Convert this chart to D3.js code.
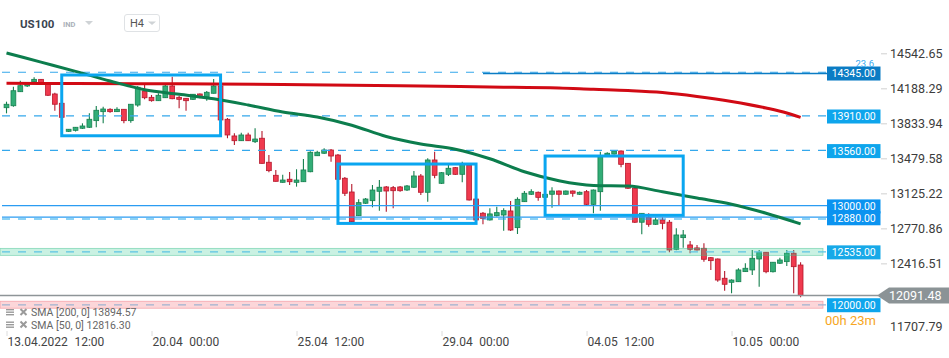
<!DOCTYPE html>
<html><head><meta charset="utf-8">
<script src="https://cdn.jsdelivr.net/npm/d3@7"></script>
<style>html,body{margin:0;padding:0;background:#fff;} svg{display:block;font-family:Roboto,"Open Sans",sans-serif;}</style>
</head><body><svg id="c" width="949" height="358"></svg>
<script>
// ---------- DATA ----------
const opens =[13992,14012,14154,14212,14255,14279,14239,14131,14037,13753,13763,13784,13794,13861,13952,13976,13952,13976,13861,14019,14161,14097,14063,14093,14212,14097,14087,14077,14131,14103,14138,14212,13875,13706,13658,13716,13648,13683,13440,13308,13237,13268,13237,13243,13344,13506,13531,13564,13513,13278,13139,12899,13025,13051,13146,13190,13183,13190,13159,13187,13301,13136,13463,13227,13318,13385,13318,13412,13068,12924,12856,12899,12906,12947,12778,13041,13116,13136,13085,13116,13149,13116,13149,13116,13142,13014,13142,13513,13523,13554,13429,13177,12833,12883,12812,12856,12833,12559,12677,12603,12573,12569,12474,12461,12266,12225,12231,12333,12350,12461,12529,12332,12418,12434,12519,12400];
const highs =[14053,14205,14265,14242,14300,14283,14242,14144,14040,13777,13797,13834,13935,14009,14002,13986,13996,13979,14030,14212,14232,14121,14138,14239,14306,14110,14090,14131,14136,14161,14283,14222,13888,13733,13739,13739,13784,13756,13513,13362,13314,13341,13369,13473,13551,13557,13581,13574,13523,13291,13220,13065,13078,13210,13260,13200,13200,13200,13210,13352,13321,13480,13547,13341,13412,13392,13446,13422,13078,12937,12974,12990,12974,13048,13085,13149,13166,13144,13124,13187,13154,13154,13154,13144,13159,13164,13547,13541,13559,13559,13432,13180,12923,12923,12883,12883,12856,12772,12754,12643,12603,12620,12481,12466,12340,12255,12367,12417,12552,12552,12532,12431,12474,12552,12552,12428];
const lows  =[13935,14002,14150,14202,14245,14222,14110,13962,13888,13746,13751,13777,13787,13794,13834,13941,13949,13834,13840,14002,14077,14053,14060,14090,14077,13986,13962,14070,14087,14063,14135,13858,13683,13615,13655,13655,13635,13425,13338,13244,13233,13210,13193,13240,13338,13503,13524,13446,13260,13099,12835,12896,13018,12984,12950,12940,12974,13142,13149,13179,13109,13041,13278,13220,13301,13311,13237,13053,12846,12812,12851,12891,12747,12744,12714,13038,13109,13051,13078,12980,13001,13109,13092,13109,13007,12924,12950,13503,13518,13389,13170,12825,12711,12788,12805,12761,12529,12550,12575,12519,12547,12434,12350,12231,12140,12114,12228,12330,12299,12181,12316,12325,12411,12390,12114,12073];
const closes=[14027,14164,14215,14232,14279,14245,14118,14027,13895,13774,13794,13807,13875,13966,13979,13952,13976,13861,14027,14199,14093,14063,14118,14212,14083,14077,14063,14128,14103,14148,14212,13868,13716,13658,13716,13658,13675,13429,13355,13247,13260,13243,13260,13362,13541,13541,13564,13503,13268,13126,12839,13031,13068,13159,13187,13149,13152,13152,13200,13301,13136,13463,13308,13334,13379,13318,13422,13058,12856,12873,12917,12930,12950,12754,13065,13126,13142,13085,13116,13149,13116,13149,13126,13136,13014,13159,13496,13531,13554,13419,13177,12833,12923,12812,12856,12822,12552,12704,12704,12559,12552,12458,12444,12248,12205,12248,12350,12367,12468,12529,12332,12428,12451,12519,12383,12091.48];

const sma200Idx=[0,10,20,30,40,50,60,70,80,85,90,95,100,105,110,113,115];
const sma200Val=[14239,14237,14235,14232,14227,14220,14212,14202,14192,14178,14166,14146,14106,14055,13989,13939,13894.57];
const sma50Idx=[0,5,10,15,20,25,30,35,40,45,50,55,60,65,70,75,80,85,90,95,100,105,110,115];
const sma50Val=[14546,14453,14360,14262,14174,14128,14082,14019,13949,13898,13815,13700,13625,13572,13475,13344,13253,13205,13199,13141,13078,13015,12924,12816.30];

const xTickIdx=[0,21,42,63,84,105];
const xTickLabels=["13.04.2022 12:00","20.04 00:00","25.04 12:00","29.04 00:00","04.05 12:00","10.05 00:00"];
const yTicks=[14542.65,14188.29,13833.94,13479.58,13125.22,12770.86,12416.51,11707.79];

const levels=[14345,13910,13560,13000,12880,12535,12000];
const boxStart=[8,48,78], boxEnd=[31,68,98], boxTop=[14323,13422,13503], boxBottom=[13708,12821,12903];
const lastPrice=12091.48;
const smaLegend=["SMA [200, 0] 13894.57","SMA [50, 0] 12816.30"];

// ---------- SCALES ----------
const svg=d3.select("#c");
const x=d3.scaleLinear().domain([0,115]).range([6.5,800.6]);
const y=d3.scaleLinear().domain([11707.79,14542.65]).range([333.4,53.3]);

const GREEN_F="#32ad77", GREEN_S="#16804f", RED_F="#f03a4e", RED_S="#b5182c";

// ---------- CANDLES ----------
const idx=d3.range(opens.length);
const cg=svg.append("g");
cg.selectAll("line.w").data(idx).join("line")
  .attr("x1",i=>x(i)).attr("x2",i=>x(i))
  .attr("y1",i=>y(highs[i])).attr("y2",i=>y(lows[i]))
  .attr("stroke",i=>closes[i]>=opens[i]?GREEN_S:RED_S).attr("stroke-width",1.1);
cg.selectAll("rect.b").data(idx).join("rect")
  .attr("x",i=>x(i)-2.4).attr("width",4.8)
  .attr("y",i=>y(Math.max(opens[i],closes[i])))
  .attr("height",i=>Math.max(1.2,Math.abs(y(opens[i])-y(closes[i]))))
  .attr("fill",i=>closes[i]>=opens[i]?GREEN_F:RED_F)
  .attr("stroke",i=>closes[i]>=opens[i]?GREEN_S:RED_S).attr("stroke-width",0.8);

// ---------- LEVELS ----------
const lg=svg.append("g");
const xL0=2, xL1=827, xBand1=823;
[[5,"rgba(60,205,150,0.28)","rgba(60,190,140,0.55)"],[6,"rgba(245,120,130,0.30)","rgba(240,120,130,0.6)"]].forEach(([k,f,s])=>{
  const yy=y(levels[k]);
  lg.append("rect").attr("x",0).attr("width",xBand1).attr("y",yy-3.3).attr("height",7)
    .attr("fill",f).attr("stroke",s).attr("stroke-width",0.8);
});
function hline(v,x0,x1,color,w,dash,off){
  lg.append("line").attr("x1",x0).attr("x2",x1).attr("y1",y(v)+(off||0)).attr("y2",y(v)+(off||0))
   .attr("stroke",color).attr("stroke-width",w).attr("stroke-dasharray",dash||null);
}
hline(levels[0],xL0,xL1,"#35a8ec",1.2,"8,8",-0.6);
hline(levels[0],483,xL1,"#0b7cc4",1.4,null,0.6);
hline(levels[1],xL0,xL1,"#35a8ec",1.2,"8,8");
hline(levels[2],xL0,xL1,"#35a8ec",1.2,"8,8");
hline(levels[3],xL0,xL1,"#2b9cf2",1.3,null);
hline(levels[4],xL0,xL1,"#2b9cf2",1.3,null,-0.4);
hline(levels[4],xL0,xL1,"#1aa6ec",1.2,"8,8",1.4);
hline(levels[5],xL0,xL1,"#5cc3e3",1.2,"8,8",0.3);
hline(levels[6],xL0,xL1,"#9fb3cf",1.2,"8,8",0.3);
lg.append("line").attr("x1",0).attr("x2",878).attr("y1",y(lastPrice)).attr("y2",y(lastPrice))
  .attr("stroke","#8e9598").attr("stroke-width",1.4);

// ---------- SMAs ----------
const line=d3.line().x(d=>x(d[0])).y(d=>y(d[1])).curve(d3.curveMonotoneX);
svg.append("path").attr("d",line(sma200Idx.map((v,i)=>[v,sma200Val[i]])))
  .attr("fill","none").attr("stroke","#d10a14").attr("stroke-width",3);
svg.append("path").attr("d",line(sma50Idx.map((v,i)=>[v,sma50Val[i]])))
  .attr("fill","none").attr("stroke","#0c7d4d").attr("stroke-width",3);

// ---------- BOXES ----------
svg.append("g").selectAll("rect").data(boxStart).join("rect")
  .attr("x",(d,i)=>x(boxStart[i])).attr("y",(d,i)=>y(boxTop[i]))
  .attr("width",(d,i)=>x(boxEnd[i])-x(boxStart[i]))
  .attr("height",(d,i)=>y(boxBottom[i])-y(boxTop[i]))
  .attr("fill","none").attr("stroke","#0aa6f0").attr("stroke-width",3);

// ---------- COUNTDOWN ----------
svg.append("text").attr("x",825).attr("y",324.5).attr("font-size",13).attr("fill","#f6a623").text("00h 23m");

// ---------- LEVEL LABELS ----------
const labColors=["#0b7cc4","#0ea5ec","#0ea5ec","#0b93f0","#0b93f0","#17a9e8","#0ea5ec"];
const labG=svg.append("g");
levels.forEach((v,k)=>{
  const yy=y(v);
  labG.append("rect").attr("x",827).attr("y",yy-6.3).attr("width",53.5).attr("height",14).attr("fill",labColors[k]);
});
levels.forEach((v,k)=>{
  labG.append("text").attr("x",853.7).attr("y",y(v)+4.4).attr("text-anchor","middle")
    .attr("font-size",10.5).attr("fill","#fff").text(v.toFixed(2));
});
svg.append("text").attr("x",874).attr("y",66.5).attr("text-anchor","end").attr("font-size",9.5).attr("fill","#3aaaf0").text("23.6");

// ---------- Y AXIS ----------
const ya=svg.append("g").attr("transform","translate(881,0)")
  .call(d3.axisRight(y).tickValues(yTicks).tickSize(6).tickPadding(3).tickFormat(d=>d.toFixed(2)));
ya.select(".domain").remove();
ya.selectAll(".tick line").attr("stroke","#d0d0d0");
ya.selectAll(".tick text").attr("font-size",12.5).attr("fill","#3c3c3c").attr("font-family","Roboto");
ya.selectAll(".tick").filter(d=>y(d)>328).attr("transform","translate(0,327)").select("line").remove();

const py=y(lastPrice);
svg.append("path").attr("d",`M877,${py} L889,${py-8} L949,${py-8} L949,${py+8} L889,${py+8} Z`).attr("fill","#8b9396");
svg.append("text").attr("x",889).attr("y",py+4.5).attr("font-size",12.5).attr("fill","#fff").text(lastPrice.toFixed(2));

// ---------- X AXIS ----------
const xa=svg.append("g").attr("transform","translate(0,331)")
  .call(d3.axisBottom(x).tickValues(xTickIdx).tickSize(5).tickFormat(""));
xa.select(".domain").remove();
xa.selectAll(".tick line").attr("stroke","#dcdcdc");
xa.selectAll(".tick").each(function(d,i){
  const parts=xTickLabels[i].split(" ");
  const t=d3.select(this).append("text").attr("x",0.5).attr("y",15).attr("text-anchor","start")
    .attr("font-size",12).attr("fill","#444").attr("font-family","Roboto");
  t.append("tspan").text(parts[0]);
  t.append("tspan").attr("dx",6.7).text(parts[1]);
});

// ---------- LEGEND ----------
smaLegend.forEach((s,k)=>{
  const by=316+k*12.5;
  const g=svg.append("g");
  [0,2.5,5].forEach(o=>g.append("rect").attr("x",6).attr("y",by-7+o).attr("width",8).attr("height",1.4).attr("fill","#9a9a9a"));
  g.append("path").attr("d",`M20.5,${by-7} L26.5,${by-1} M26.5,${by-7} L20.5,${by-1}`).attr("stroke","#9a9a9a").attr("stroke-width",2);
  g.append("text").attr("x",31).attr("y",by).attr("font-size",10.5).attr("fill","#666").text(s);
});

// ---------- HEADER ----------
svg.append("text").attr("x",20).attr("y",27.5).attr("font-size",11.5).attr("font-weight","bold").attr("fill","#3a4450").text("US100");
svg.append("text").attr("x",63).attr("y",27).attr("font-size",7.5).attr("font-weight","bold").attr("fill","#aab0b8").text("IND");
svg.append("path").attr("d","M85,21 L93,21 L89,25 Z").attr("fill","#cfd3d6");
svg.append("rect").attr("x",124.5).attr("y",14.5).attr("width",35).attr("height",17).attr("rx",2.5).attr("fill","#fff").attr("stroke","#dfe2e5");
svg.append("text").attr("x",130).attr("y",27).attr("font-size",11).attr("fill","#555").text("H4");
svg.append("path").attr("d","M148,21.5 L156,21.5 L152,25 Z").attr("fill","#cfd3d6");
</script></body></html>
